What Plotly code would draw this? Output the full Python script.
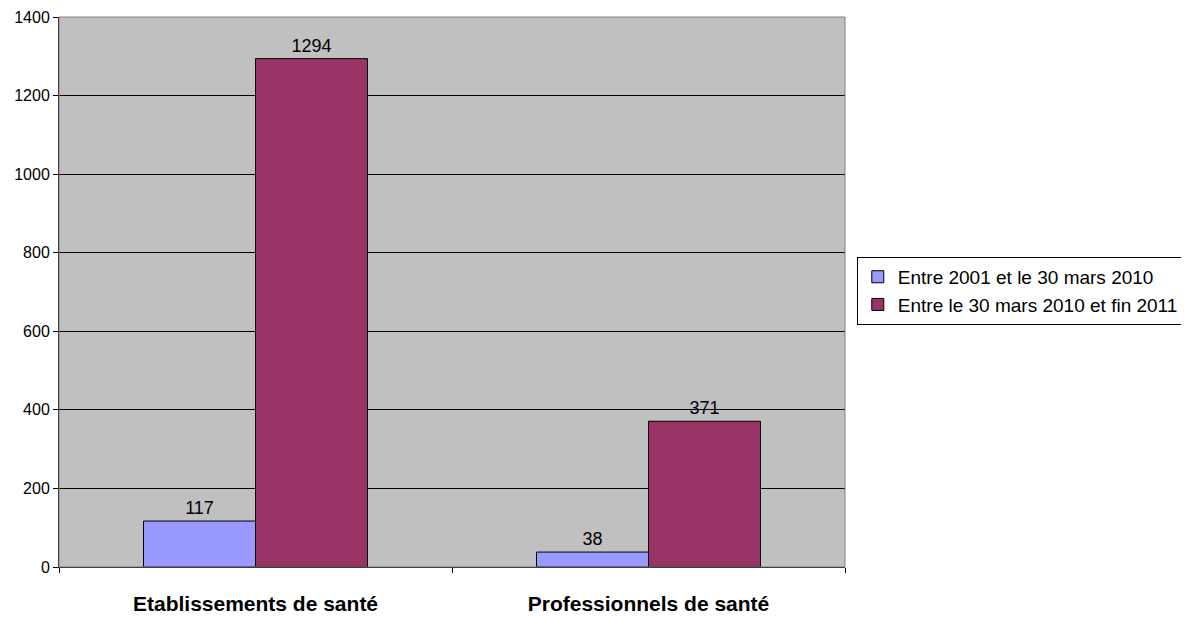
import plotly.graph_objects as go

categories = ["Etablissements de santé", "Professionnels de santé"]
series1_name = "Entre 2001 et le 30 mars 2010"
series1 = [117, 38]
series2_name = "Entre le 30 mars 2010 et fin 2011"
series2 = [1294, 371]
y_ticks = [0, 200, 400, 600, 800, 1000, 1200, 1400]

fig = go.Figure()
fig.add_trace(go.Bar(
    name=series1_name, x=categories, y=series1,
    marker=dict(color="#9999FF", line=dict(color="black", width=1)),
    text=[str(v) for v in series1], textposition="outside",
    textfont=dict(family="Arial", size=18, color="black"), cliponaxis=False,
))
fig.add_trace(go.Bar(
    name=series2_name, x=categories, y=series2,
    marker=dict(color="#993366", line=dict(color="black", width=1)),
    text=[str(v) for v in series2], textposition="outside",
    textfont=dict(family="Arial", size=18, color="black"), cliponaxis=False,
))

fig.update_layout(
    width=1181, height=609,
    margin=dict(l=51, r=344, t=9, b=50, autoexpand=False),
    paper_bgcolor="white", plot_bgcolor="#C0C0C0",
    barmode="group", bargap=0.43, bargroupgap=0,
    font=dict(family="Arial", color="black"),
    showlegend=True,
    legend=dict(x=1.015, y=0.502, xanchor="left", yanchor="middle",
                bgcolor="white", bordercolor="black", borderwidth=1,
                font=dict(family="Arial", size=19, color="black"),
                traceorder="normal", itemwidth=30, tracegroupgap=0),
    shapes=[dict(type="rect", xref="paper", yref="paper", x0=0, x1=1, y0=0, y1=1,
                 line=dict(color="#808080", width=1), layer="above")],
)
fig.update_yaxes(
    range=[0, 1400], tickvals=y_ticks, showgrid=True, gridcolor="black", gridwidth=1,
    showline=True, linecolor="black", linewidth=1, ticks="outside", ticklen=5,
    tickcolor="black", tickfont=dict(family="Arial", size=16), zeroline=False,
    automargin=False,
)
fig.update_xaxes(
    showline=True, linecolor="black", linewidth=1, ticks="outside", ticklen=5,
    tickcolor="black", tickson="boundaries", automargin=False, ticklabelstandoff=18,
    tickfont=dict(family="Arial", size=21, weight="bold", color="black"),
)

fig.write_html("out.html")
